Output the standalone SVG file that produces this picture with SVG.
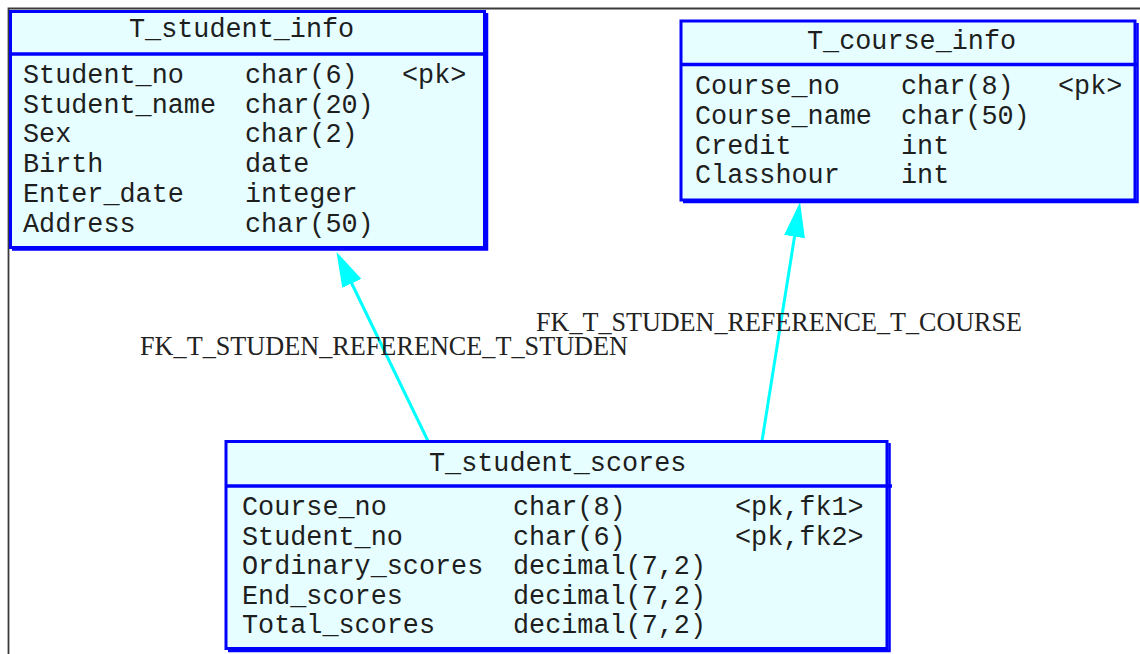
<svg xmlns="http://www.w3.org/2000/svg" width="1140" height="654" viewBox="0 0 1140 654">
<defs>
<style>
.frame{fill:none;stroke:#3a3a3a;stroke-width:1.8}
.box{fill:#E6FEFF;stroke:#0000FF;stroke-width:3}
.shadow{fill:none;stroke:#0000FF;stroke-width:2.5}
.sep{stroke:#0000FF;stroke-width:3.5}
.t{font-family:"Liberation Mono","DejaVu Sans Mono",monospace;font-size:26.8px;fill:#1e1e1e}
.lbl{font-family:"Liberation Serif","Times New Roman",serif;font-size:27px;fill:#222}
.conn{stroke:#00FFFF;stroke-width:3;fill:none}
</style>
<marker id="arr" viewBox="0 0 35 21" refX="1" refY="10.5" markerWidth="35" markerHeight="21" markerUnits="userSpaceOnUse" orient="auto">
<path d="M0,0 L35,10.5 L0,21 z" fill="#00FFFF"/>
</marker>
</defs>
<rect width="1140" height="654" fill="#ffffff"/>
<path class="frame" d="M8.5,654 L8.5,8.5 L1140,8.5"/>

<g id="connectors">
<line class="conn" x1="428" y1="441" x2="351.3" y2="282.5" marker-end="url(#arr)"/>
<line class="conn" x1="762" y1="441" x2="794.7" y2="235.6" marker-end="url(#arr)"/>
<text class="lbl" x="140" y="355" textLength="488" lengthAdjust="spacingAndGlyphs">FK_T_STUDEN_REFERENCE_T_STUDEN</text>
<text class="lbl" x="536" y="331" textLength="486" lengthAdjust="spacingAndGlyphs">FK_T_STUDEN_REFERENCE_T_COURSE</text>
</g>

<g id="T_student_info">
<rect class="box" x="10.5" y="11.5" width="474" height="236"/>
<path class="shadow" d="M487,13 L487,249.5 L12,249.5"/>
<line class="sep" x1="10" y1="54" x2="487" y2="54"/>
<text class="t" x="129" y="37">T_student_info</text>
<text class="t" x="23" y="83">Student_no</text><text class="t" x="245" y="83">char(6)</text><text class="t" x="402" y="83">&lt;pk&gt;</text>
<text class="t" x="23" y="112.7">Student_name</text><text class="t" x="245" y="112.7">char(20)</text>
<text class="t" x="23" y="142.4">Sex</text><text class="t" x="245" y="142.4">char(2)</text>
<text class="t" x="23" y="172">Birth</text><text class="t" x="245" y="172">date</text>
<text class="t" x="23" y="201.8">Enter_date</text><text class="t" x="245" y="201.8">integer</text>
<text class="t" x="23" y="231.5">Address</text><text class="t" x="245" y="231.5">char(50)</text>
</g>

<g id="T_course_info">
<rect class="box" x="681" y="21" width="454" height="179"/>
<path class="shadow" d="M1137.5,23 L1137.5,202 L683,202"/>
<line class="sep" x1="681" y1="64.5" x2="1138" y2="64.5"/>
<text class="t" x="807" y="48.5">T_course_info</text>
<text class="t" x="695" y="94.3">Course_no</text><text class="t" x="901" y="94.3">char(8)</text><text class="t" x="1058" y="94.3">&lt;pk&gt;</text>
<text class="t" x="695" y="123.8">Course_name</text><text class="t" x="901" y="123.8">char(50)</text>
<text class="t" x="695" y="153.5">Credit</text><text class="t" x="901" y="153.5">int</text>
<text class="t" x="695" y="183.3">Classhour</text><text class="t" x="901" y="183.3">int</text>
</g>

<g id="T_student_scores">
<rect class="box" x="226" y="441.5" width="661" height="207"/>
<path class="shadow" d="M889.5,443 L889.5,651 L228,651"/>
<line class="sep" x1="226" y1="486" x2="892" y2="486"/>
<text class="t" x="429" y="471">T_student_scores</text>
<text class="t" x="242" y="515">Course_no</text><text class="t" x="513" y="515">char(8)</text><text class="t" x="735" y="515">&lt;pk,fk1&gt;</text>
<text class="t" x="242" y="544.5">Student_no</text><text class="t" x="513" y="544.5">char(6)</text><text class="t" x="735" y="544.5">&lt;pk,fk2&gt;</text>
<text class="t" x="242" y="574">Ordinary_scores</text><text class="t" x="513" y="574">decimal(7,2)</text>
<text class="t" x="242" y="603.5">End_scores</text><text class="t" x="513" y="603.5">decimal(7,2)</text>
<text class="t" x="242" y="633">Total_scores</text><text class="t" x="513" y="633">decimal(7,2)</text>
</g>
</svg>
